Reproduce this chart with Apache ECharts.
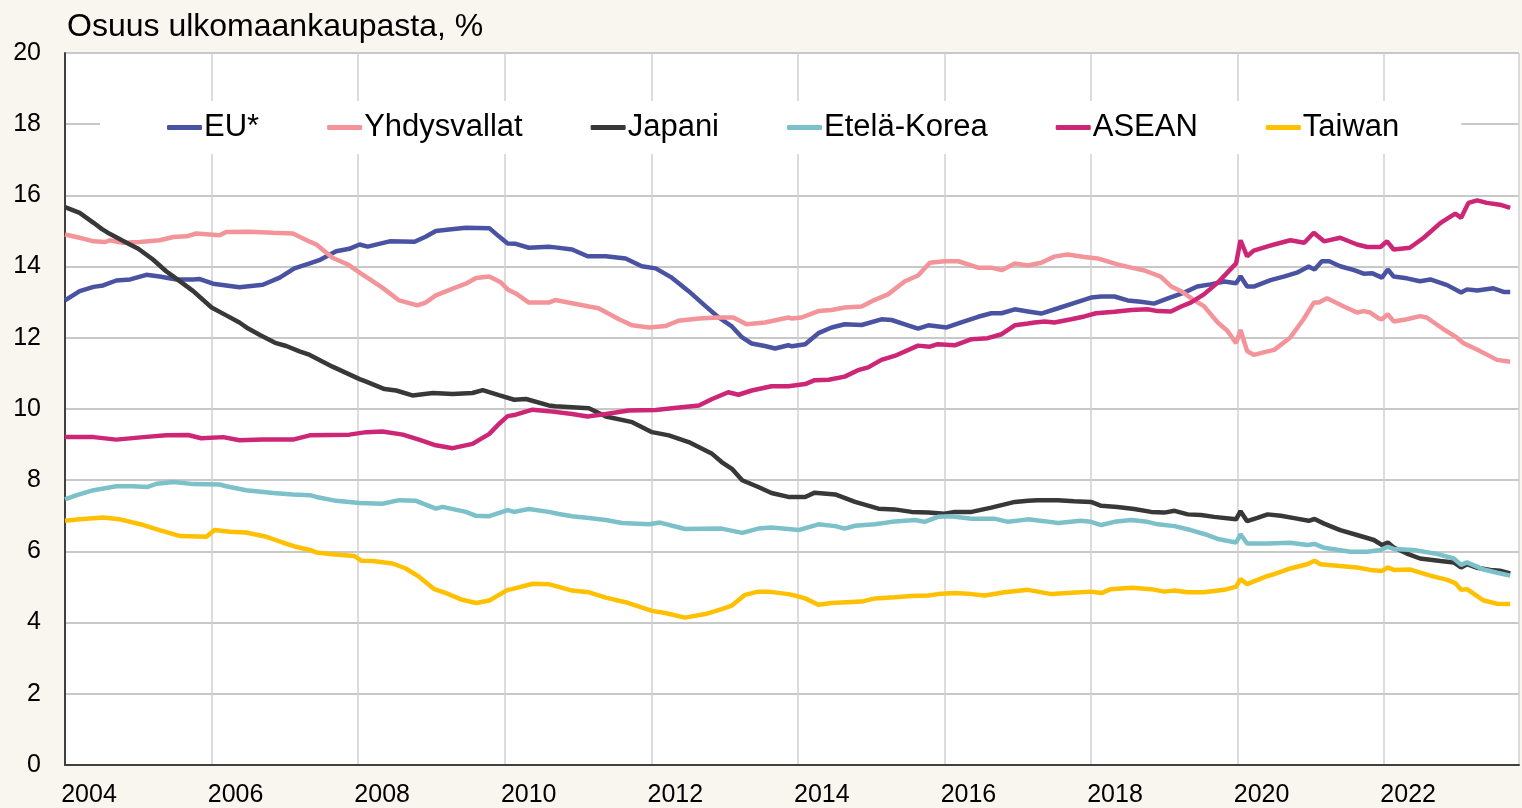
<!DOCTYPE html>
<html>
<head>
<meta charset="utf-8">
<script src="https://cdn.jsdelivr.net/npm/echarts@6/dist/echarts.min.js"></script>
<style>
  html, body { margin: 0; padding: 0; background: #f9f5ef; }
  #main { width: 1522px; height: 808px; }
</style>
</head>
<body>
<div id="main"></div>
<script>
// osuudet ulkomaankaupasta, [vuosi, %]
var eu = [
  [2004.00,13.05],[2004.20,13.31],[2004.39,13.43],[2004.52,13.47],[2004.70,13.61],[2004.89,13.64],[2005.11,13.77],[2005.29,13.72],
  [2005.52,13.64],[2005.75,13.64],[2005.84,13.65],[2006.02,13.52],[2006.38,13.42],[2006.70,13.49],[2006.93,13.69],[2007.13,13.95],
  [2007.34,14.09],[2007.47,14.18],[2007.70,14.43],[2007.88,14.50],[2008.02,14.62],[2008.13,14.56],[2008.43,14.71],[2008.77,14.70],
  [2008.92,14.84],[2009.06,15.00],[2009.24,15.04],[2009.47,15.09],[2009.79,15.08],[2009.92,14.85],[2010.04,14.65],[2010.15,14.64],
  [2010.33,14.53],[2010.60,14.56],[2010.69,14.54],[2010.92,14.48],[2011.13,14.29],[2011.38,14.29],[2011.65,14.23],[2011.87,14.01],
  [2012.06,13.95],[2012.28,13.69],[2012.51,13.31],[2012.74,12.89],[2012.92,12.57],[2013.10,12.32],[2013.24,12.01],[2013.37,11.84],
  [2013.55,11.77],[2013.69,11.70],[2013.87,11.79],[2013.92,11.76],[2014.10,11.82],[2014.28,12.13],[2014.46,12.29],[2014.64,12.38],
  [2014.87,12.36],[2015.14,12.52],[2015.28,12.50],[2015.46,12.38],[2015.64,12.26],[2015.78,12.35],[2016.03,12.29],[2016.23,12.43],
  [2016.46,12.59],[2016.64,12.69],[2016.78,12.69],[2016.96,12.80],[2017.14,12.74],[2017.32,12.68],[2017.55,12.83],[2017.82,13.01],
  [2018.00,13.13],[2018.14,13.16],[2018.32,13.16],[2018.50,13.05],[2018.68,13.01],[2018.86,12.96],[2019.04,13.10],[2019.27,13.27],
  [2019.45,13.44],[2019.63,13.50],[2019.82,13.58],[2019.98,13.53],[2020.04,13.73],[2020.13,13.44],[2020.22,13.44],[2020.45,13.62],
  [2020.63,13.72],[2020.81,13.83],[2020.97,14.00],[2021.05,13.92],[2021.15,14.15],[2021.25,14.15],[2021.40,14.01],[2021.59,13.90],
  [2021.72,13.80],[2021.84,13.81],[2021.97,13.69],[2022.05,13.92],[2022.13,13.72],[2022.31,13.67],[2022.49,13.59],[2022.63,13.64],
  [2022.86,13.48],[2023.05,13.27],[2023.13,13.36],[2023.27,13.33],[2023.49,13.39],[2023.63,13.29],[2023.72,13.29]
];
var yhdysvallat = [
  [2004.00,14.90],[2004.20,14.81],[2004.39,14.71],[2004.55,14.69],[2004.61,14.74],[2004.79,14.67],[2005.02,14.69],[2005.29,14.74],
  [2005.48,14.83],[2005.66,14.85],[2005.79,14.93],[2006.11,14.88],[2006.20,14.97],[2006.52,14.98],[2006.84,14.95],[2007.11,14.93],
  [2007.34,14.70],[2007.43,14.62],[2007.65,14.25],[2007.86,14.06],[2008.02,13.83],[2008.33,13.41],[2008.56,13.05],[2008.81,12.91],
  [2008.92,12.99],[2009.06,13.19],[2009.29,13.38],[2009.47,13.52],[2009.61,13.68],[2009.79,13.72],[2009.95,13.55],[2010.04,13.36],
  [2010.17,13.22],[2010.33,12.99],[2010.60,12.99],[2010.69,13.06],[2010.92,12.97],[2011.15,12.88],[2011.28,12.83],[2011.56,12.52],
  [2011.74,12.35],[2011.97,12.29],[2012.19,12.33],[2012.37,12.48],[2012.65,12.54],[2012.92,12.57],[2013.12,12.57],[2013.30,12.38],
  [2013.55,12.43],[2013.87,12.57],[2013.92,12.54],[2014.05,12.57],[2014.28,12.75],[2014.46,12.78],[2014.64,12.85],[2014.87,12.88],
  [2015.01,13.03],[2015.23,13.22],[2015.46,13.59],[2015.64,13.75],[2015.80,14.11],[2016.00,14.15],[2016.19,14.15],[2016.46,13.97],
  [2016.64,13.97],[2016.78,13.90],[2016.96,14.09],[2017.14,14.03],[2017.32,14.11],[2017.50,14.28],[2017.68,14.34],[2017.91,14.27],
  [2018.09,14.23],[2018.36,14.06],[2018.55,13.97],[2018.73,13.89],[2018.95,13.72],[2019.09,13.45],[2019.23,13.31],[2019.41,13.05],
  [2019.54,12.89],[2019.73,12.43],[2019.86,12.20],[2019.98,11.85],[2020.04,12.22],[2020.13,11.63],[2020.22,11.52],[2020.41,11.62],
  [2020.50,11.66],[2020.72,12.01],[2020.90,12.52],[2021.04,12.99],[2021.11,12.99],[2021.22,13.11],[2021.45,12.88],[2021.63,12.71],
  [2021.72,12.75],[2021.81,12.71],[2021.93,12.54],[2021.97,12.52],[2022.05,12.66],[2022.13,12.46],[2022.31,12.52],[2022.49,12.61],
  [2022.58,12.57],[2022.81,12.24],[2022.99,12.01],[2023.08,11.85],[2023.26,11.68],[2023.54,11.38],[2023.72,11.33]
];
var japani = [
  [2004.00,15.67],[2004.20,15.51],[2004.39,15.23],[2004.50,15.06],[2004.61,14.92],[2004.84,14.67],[2005.00,14.50],[2005.20,14.20],
  [2005.38,13.87],[2005.50,13.69],[2005.75,13.31],[2006.00,12.85],[2006.20,12.63],[2006.38,12.43],[2006.50,12.26],[2006.66,12.08],
  [2006.88,11.85],[2007.02,11.77],[2007.20,11.62],[2007.34,11.52],[2007.65,11.19],[2008.02,10.84],[2008.11,10.77],[2008.36,10.56],
  [2008.52,10.52],[2008.74,10.38],[2009.02,10.45],[2009.29,10.42],[2009.56,10.45],[2009.70,10.53],[2009.92,10.39],[2010.13,10.26],
  [2010.29,10.28],[2010.60,10.10],[2010.69,10.08],[2010.92,10.05],[2011.15,10.02],[2011.38,9.79],[2011.74,9.63],[2012.01,9.35],
  [2012.24,9.26],[2012.51,9.07],[2012.83,8.74],[2012.96,8.51],[2013.10,8.32],[2013.24,8.00],[2013.46,7.81],[2013.64,7.64],
  [2013.87,7.53],[2014.10,7.53],[2014.23,7.65],[2014.51,7.60],[2014.78,7.39],[2015.10,7.20],[2015.32,7.18],[2015.55,7.11],
  [2015.78,7.09],[2016.00,7.06],[2016.14,7.11],[2016.37,7.11],[2016.64,7.23],[2016.96,7.39],[2017.14,7.42],[2017.27,7.44],
  [2017.55,7.44],[2017.77,7.41],[2018.00,7.39],[2018.14,7.28],[2018.36,7.25],[2018.59,7.19],[2018.82,7.11],[2019.00,7.09],
  [2019.14,7.14],[2019.32,7.04],[2019.50,7.02],[2019.68,6.97],[2019.98,6.90],[2020.04,7.13],[2020.13,6.85],[2020.27,6.94],
  [2020.41,7.04],[2020.59,7.00],[2020.81,6.92],[2020.97,6.86],[2021.05,6.91],[2021.18,6.78],[2021.40,6.60],[2021.63,6.46],
  [2021.86,6.32],[2021.97,6.18],[2022.05,6.25],[2022.13,6.11],[2022.31,5.94],[2022.49,5.80],[2022.77,5.73],[2022.95,5.69],
  [2023.05,5.55],[2023.13,5.64],[2023.27,5.54],[2023.45,5.48],[2023.58,5.46],[2023.72,5.38]
];
var etelaKorea = [
  [2004.00,7.46],[2004.16,7.58],[2004.39,7.72],[2004.70,7.83],[2004.93,7.83],[2005.13,7.81],[2005.25,7.90],[2005.48,7.95],
  [2005.75,7.89],[2006.11,7.88],[2006.20,7.83],[2006.47,7.72],[2006.84,7.64],[2007.11,7.60],[2007.34,7.58],[2007.43,7.53],
  [2007.70,7.42],[2008.02,7.36],[2008.33,7.34],[2008.56,7.44],[2008.79,7.42],[2009.06,7.20],[2009.15,7.25],[2009.47,7.11],
  [2009.61,7.00],[2009.79,6.99],[2010.04,7.16],[2010.13,7.11],[2010.33,7.19],[2010.60,7.11],[2010.74,7.05],[2010.92,6.99],
  [2011.15,6.94],[2011.38,6.88],[2011.60,6.80],[2011.97,6.76],[2012.12,6.81],[2012.46,6.63],[2012.96,6.64],[2013.24,6.52],
  [2013.46,6.64],[2013.64,6.67],[2013.87,6.63],[2014.01,6.60],[2014.28,6.76],[2014.51,6.71],[2014.64,6.64],[2014.78,6.72],
  [2015.05,6.76],[2015.28,6.83],[2015.60,6.88],[2015.73,6.83],[2015.91,6.97],[2016.09,6.99],[2016.37,6.92],[2016.68,6.92],
  [2016.87,6.83],[2017.14,6.90],[2017.36,6.85],[2017.55,6.80],[2017.86,6.86],[2018.00,6.83],[2018.14,6.74],[2018.32,6.83],
  [2018.55,6.88],[2018.77,6.83],[2018.91,6.76],[2019.14,6.71],[2019.36,6.60],[2019.59,6.46],[2019.73,6.35],[2019.98,6.25],
  [2020.04,6.48],[2020.13,6.22],[2020.41,6.22],[2020.72,6.24],[2020.95,6.18],[2021.05,6.21],[2021.18,6.10],[2021.54,5.99],
  [2021.77,5.99],[2021.95,6.04],[2022.05,6.13],[2022.13,6.07],[2022.40,6.04],[2022.72,5.93],[2022.95,5.80],[2023.05,5.62],
  [2023.13,5.69],[2023.36,5.49],[2023.54,5.40],[2023.72,5.32]
];
var asean = [
  [2004.00,9.21],[2004.39,9.21],[2004.70,9.14],[2005.07,9.21],[2005.38,9.26],[2005.68,9.27],[2005.86,9.18],[2006.16,9.21],
  [2006.38,9.12],[2006.70,9.14],[2007.11,9.14],[2007.34,9.26],[2007.88,9.28],[2008.11,9.35],[2008.33,9.37],[2008.61,9.28],
  [2008.83,9.14],[2009.06,8.98],[2009.29,8.90],[2009.56,9.02],[2009.79,9.30],[2009.92,9.58],[2010.04,9.80],[2010.15,9.84],
  [2010.38,9.98],[2010.60,9.94],[2010.92,9.86],[2011.13,9.79],[2011.38,9.86],[2011.69,9.96],[2012.06,9.97],[2012.28,10.02],
  [2012.65,10.10],[2012.83,10.28],[2013.05,10.47],[2013.19,10.40],[2013.37,10.52],[2013.64,10.64],[2013.87,10.64],[2014.10,10.70],
  [2014.23,10.81],[2014.42,10.82],[2014.64,10.91],[2014.82,11.09],[2014.96,11.17],[2015.14,11.38],[2015.32,11.49],[2015.64,11.78],
  [2015.80,11.75],[2015.91,11.82],[2016.14,11.79],[2016.37,11.96],[2016.59,11.99],[2016.78,12.10],[2016.96,12.35],[2017.14,12.40],
  [2017.23,12.43],[2017.37,12.46],[2017.50,12.43],[2017.73,12.52],[2017.91,12.60],[2018.07,12.69],[2018.32,12.73],[2018.55,12.78],
  [2018.77,12.80],[2018.91,12.75],[2019.09,12.74],[2019.23,12.88],[2019.36,12.99],[2019.54,13.22],[2019.73,13.55],[2019.86,13.83],
  [2019.98,14.09],[2020.04,14.74],[2020.13,14.29],[2020.22,14.45],[2020.41,14.57],[2020.50,14.62],[2020.72,14.74],[2020.91,14.67],
  [2021.04,14.95],[2021.18,14.71],[2021.40,14.81],[2021.63,14.62],[2021.77,14.55],[2021.95,14.55],[2022.04,14.71],[2022.13,14.48],
  [2022.35,14.53],[2022.54,14.81],[2022.77,15.23],[2022.97,15.49],[2023.05,15.37],[2023.15,15.79],[2023.27,15.86],[2023.40,15.79],
  [2023.58,15.74],[2023.72,15.65]
];
var taiwan = [
  [2004.00,6.86],[2004.20,6.90],[2004.52,6.95],[2004.75,6.90],[2005.07,6.74],[2005.29,6.60],[2005.57,6.43],[2005.93,6.41],
  [2006.04,6.60],[2006.25,6.55],[2006.47,6.53],[2006.75,6.41],[2006.97,6.25],[2007.15,6.13],[2007.34,6.04],[2007.43,5.97],
  [2007.65,5.92],[2007.95,5.87],[2008.04,5.74],[2008.20,5.73],[2008.47,5.66],[2008.65,5.52],[2008.83,5.29],[2009.04,4.94],
  [2009.20,4.83],[2009.42,4.64],[2009.61,4.55],[2009.79,4.62],[2010.04,4.92],[2010.10,4.94],[2010.38,5.09],[2010.60,5.08],
  [2010.92,4.90],[2011.15,4.85],[2011.38,4.70],[2011.69,4.55],[2012.01,4.33],[2012.19,4.27],[2012.46,4.14],[2012.74,4.24],
  [2012.96,4.38],[2013.10,4.48],[2013.28,4.78],[2013.46,4.87],[2013.60,4.87],[2013.87,4.80],[2013.96,4.76],[2014.10,4.68],
  [2014.28,4.50],[2014.46,4.55],[2014.87,4.59],[2015.05,4.68],[2015.32,4.71],[2015.55,4.75],[2015.78,4.76],[2015.91,4.80],
  [2016.14,4.83],[2016.37,4.80],[2016.55,4.76],[2016.82,4.85],[2017.14,4.92],[2017.46,4.80],[2017.68,4.83],[2018.00,4.87],
  [2018.14,4.83],[2018.27,4.94],[2018.55,4.98],[2018.82,4.94],[2019.00,4.87],[2019.14,4.90],[2019.32,4.85],[2019.54,4.85],
  [2019.82,4.92],[2019.98,5.01],[2020.04,5.22],[2020.13,5.08],[2020.41,5.31],[2020.50,5.36],[2020.72,5.52],[2020.95,5.64],
  [2021.05,5.74],[2021.13,5.64],[2021.40,5.59],[2021.63,5.55],[2021.81,5.48],[2021.97,5.45],[2022.05,5.55],[2022.13,5.48],
  [2022.36,5.49],[2022.63,5.32],[2022.86,5.20],[2022.97,5.11],[2023.05,4.92],[2023.13,4.94],[2023.36,4.62],[2023.54,4.53],
  [2023.72,4.52]
];

var names = ['EU*', 'Yhdysvallat', 'Japani', 'Etelä-Korea', 'ASEAN', 'Taiwan'];
var colors = ['#4a53a1', '#f3949a', '#383838', '#7cc0ca', '#cd2677', '#ffc000'];
var allData = [eu, yhdysvallat, japani, etelaKorea, asean, taiwan];

var font = "'Liberation Sans', Arial, sans-serif";
var myChart = echarts.init(document.getElementById('main'));

var series = [];
for (var i = 0; i < names.length; i++) {
  series.push({
    name: names[i],
    type: 'line',
    data: allData[i],
    showSymbol: false,
    lineStyle: { width: 4.5, color: colors[i] },
    itemStyle: { color: colors[i] }
  });
}

var option = {
  animation: false,
  backgroundColor: '#f9f5ef',
  title: {
    text: 'Osuus ulkomaankaupasta, %',
    left: 62,
    top: 6,
    textStyle: { fontFamily: font, fontSize: 32, fontWeight: 'normal', color: '#000' }
  },
  legend: {
    data: names,
    left: 100,
    top: 101,
    padding: [11, 62, 11, 67],
    backgroundColor: '#fff',
    itemWidth: 35,
    itemHeight: 5,
    itemGap: 68,
    icon: 'roundRect',
    textStyle: { fontFamily: font, fontSize: 31, color: '#000', padding: [0, 0, 0, -3] }
  },
  grid: {
    left: 65, right: 0, top: 53, bottom: 41,
    show: true, backgroundColor: '#fff', borderWidth: 0
  },
  xAxis: {
    type: 'value',
    min: 2004,
    max: 2023.84,
    interval: 2,
    axisLine: { show: true, onZero: false, lineStyle: { color: '#404040', width: 2 } },
    axisTick: { show: false },
    splitLine: { show: true, lineStyle: { color: '#d0d0d0', width: 1.5 } },
    axisLabel: {
      fontFamily: font, fontSize: 25, color: '#000', margin: 18,
      padding: [0, 0, 0, 48],
      formatter: function (v) { return (v % 2 === 0) ? String(v) : ''; }
    }
  },
  yAxis: {
    type: 'value',
    min: 0,
    max: 20,
    interval: 2,
    axisLine: { show: true, lineStyle: { color: '#404040', width: 2 } },
    axisTick: { show: false },
    splitLine: { show: true, lineStyle: { color: '#c8c8c8', width: 2 } },
    axisLabel: { fontFamily: font, fontSize: 25, color: '#000', margin: 24 }
  },
  series: series
};

myChart.setOption(option);
</script>
</body>
</html>
